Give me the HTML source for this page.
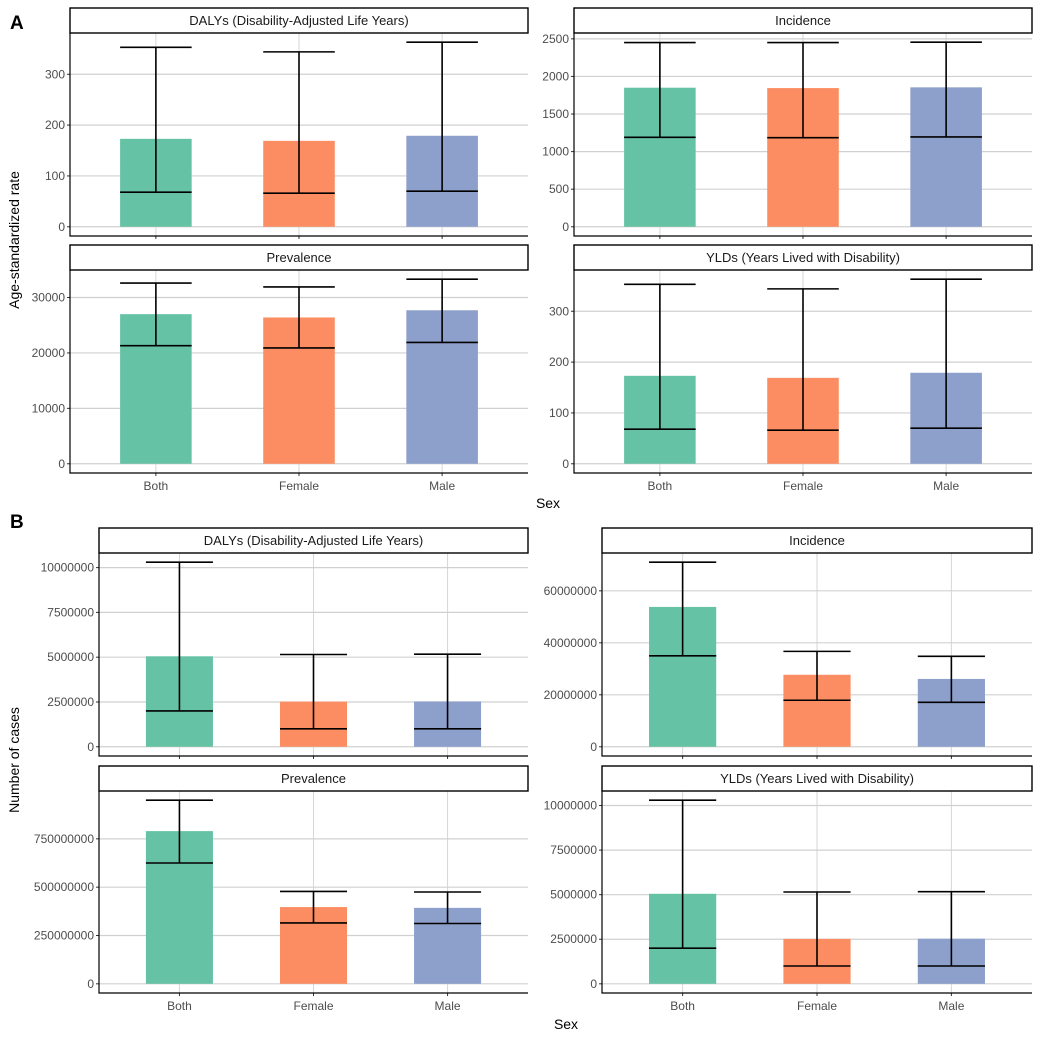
<!DOCTYPE html>
<html><head><meta charset="utf-8">
<style>
html,body{margin:0;padding:0;background:#fff;}
svg{display:block;font-family:"Liberation Sans",Arial,sans-serif;}
</style></head>
<body>
<svg id="chart" width="1040" height="1040" xmlns="http://www.w3.org/2000/svg">
<text x="10" y="29" font-size="19" font-weight="bold">A</text>
<text x="10" y="528" font-size="19" font-weight="bold">B</text>
<text transform="translate(19,240) rotate(-90)" text-anchor="middle" font-size="14">Age-standardized rate</text>
<text transform="translate(19,760) rotate(-90)" text-anchor="middle" font-size="14">Number of cases</text>
<text x="548" y="508" text-anchor="middle" font-size="14">Sex</text>
<text x="566" y="1029" text-anchor="middle" font-size="14">Sex</text>
</svg>
<script>
const categories = ["Both","Female","Male"];
const colors = ["#66c2a5","#fc8d62","#8da0cb"];
// Section A: age-standardized rates
const aDalysVal = [173,169,179];   const aDalysLo = [68,66,70];   const aDalysHi = [353,344,363];
const aIncVal = [1850,1845,1855];  const aIncLo = [1190,1185,1195]; const aIncHi = [2450,2450,2455];
const aPrevVal = [27000,26400,27700]; const aPrevLo = [21300,20900,21900]; const aPrevHi = [32600,31900,33300];
const aYldVal = [173,169,179];     const aYldLo = [68,66,70];     const aYldHi = [353,344,363];
// Section B: number of cases
const bDalysVal = [5050000,2520000,2530000]; const bDalysLo = [2000000,1000000,1000000]; const bDalysHi = [10300000,5150000,5170000];
const bIncVal = [53800000,27700000,26100000]; const bIncLo = [35000000,17900000,17100000]; const bIncHi = [71000000,36700000,34800000];
const bPrevVal = [790000000,397000000,393000000]; const bPrevLo = [625000000,315000000,312000000]; const bPrevHi = [950000000,478000000,475000000];
const bYldVal = [5050000,2520000,2530000]; const bYldLo = [2000000,1000000,1000000]; const bYldHi = [10300000,5150000,5170000];
// tick labels
const ticksA1 = [0,100,200,300];
const ticksA2 = [0,500,1000,1500,2000,2500];
const ticksA3 = [0,10000,20000,30000];
const ticksB1 = [0,2500000,5000000,7500000,10000000];
const ticksB2 = [0,20000000,40000000,60000000];
const ticksB3 = [0,250000000,500000000,750000000];

const panels = [
 {name:"a-dalys",title:"DALYs (Disability-Adjusted Life Years)",x0:70,x1:528,sy:8,py0:33,py1:236,v:aDalysVal,lo:aDalysLo,hi:aDalysHi,t:ticksA1,xl:false},
 {name:"a-incidence",title:"Incidence",x0:574,x1:1032,sy:8,py0:33,py1:236,v:aIncVal,lo:aIncLo,hi:aIncHi,t:ticksA2,xl:false},
 {name:"a-prevalence",title:"Prevalence",x0:70,x1:528,sy:245,py0:270,py1:473,v:aPrevVal,lo:aPrevLo,hi:aPrevHi,t:ticksA3,xl:true},
 {name:"a-ylds",title:"YLDs (Years Lived with Disability)",x0:574,x1:1032,sy:245,py0:270,py1:473,v:aYldVal,lo:aYldLo,hi:aYldHi,t:ticksA1,xl:true},
 {name:"b-dalys",title:"DALYs (Disability-Adjusted Life Years)",x0:99,x1:528,sy:528,py0:553,py1:756,v:bDalysVal,lo:bDalysLo,hi:bDalysHi,t:ticksB1,xl:false},
 {name:"b-incidence",title:"Incidence",x0:602,x1:1032,sy:528,py0:553,py1:756,v:bIncVal,lo:bIncLo,hi:bIncHi,t:ticksB2,xl:false},
 {name:"b-prevalence",title:"Prevalence",x0:99,x1:528,sy:766,py0:791,py1:993,v:bPrevVal,lo:bPrevLo,hi:bPrevHi,t:ticksB3,xl:true},
 {name:"b-ylds",title:"YLDs (Years Lived with Disability)",x0:602,x1:1032,sy:766,py0:791,py1:993,v:bYldVal,lo:bYldLo,hi:bYldHi,t:ticksB1,xl:true}
];
const svg = document.getElementById("chart");
const NS = "http://www.w3.org/2000/svg";
function mk(tag, attrs, parent){
  const e = document.createElementNS(NS, tag);
  for (const k in attrs) e.setAttribute(k, attrs[k]);
  (parent||svg).appendChild(e);
  return e;
}
panels.forEach(p => {
  const g = mk("g", {});
  
  
  const M = Math.max(...p.hi);
  const dlo = -0.05*M, dhi = 1.05*M;
  const y = v => p.py1 - (v - dlo)/(dhi - dlo)*(p.py1 - p.py0);
  const W = p.x1 - p.x0;
  const x = i => p.x0 + (0.6 + i)/3.2*W;
  const bw = 0.5/3.2*W;
  categories.forEach((c,i) => {
    const l = mk("line",{x1:x(i),x2:x(i),y1:p.py0,y2:p.py1,stroke:"#d6d6d6","stroke-width":1}, g);
    
    
  });
  p.t.forEach(t => {
    const l = mk("line",{x1:p.x0,x2:p.x1,y1:y(t),y2:y(t),stroke:"#d0d0d0","stroke-width":1.2}, g);
    
    
    const tk = mk("line",{x1:p.x0-3,x2:p.x0,y1:y(t),y2:y(t),stroke:"#333","stroke-width":1}, g);
    
    
    const tx = mk("text",{x:p.x0-5,y:y(t)+4,"text-anchor":"end","font-size":12,fill:"#4d4d4d"}, g);
    tx.textContent = t;
    
    
  });
  categories.forEach((c,i) => {
    const b = mk("rect",{x:x(i)-bw/2,y:y(p.v[i]),width:bw,height:y(0)-y(p.v[i]),fill:colors[i]}, g);
    
    
    const eg = mk("g",{stroke:"#000","stroke-width":1.6,fill:"none"}, g);
    
    
    mk("line",{x1:x(i),x2:x(i),y1:y(p.lo[i]),y2:y(p.hi[i])}, eg);
    mk("line",{x1:x(i)-bw/2,x2:x(i)+bw/2,y1:y(p.lo[i]),y2:y(p.lo[i])}, eg);
    mk("line",{x1:x(i)-bw/2,x2:x(i)+bw/2,y1:y(p.hi[i]),y2:y(p.hi[i])}, eg);
    const xt = mk("line",{x1:x(i),x2:x(i),y1:p.py1,y2:p.py1+3,stroke:"#333","stroke-width":1}, g);
    
    
    if (p.xl){
      const lt = mk("text",{x:x(i),y:p.py1+17,"text-anchor":"middle","font-size":12,fill:"#4d4d4d"}, g);
      lt.textContent = c;
      
      
    }
  });
  const ax = mk("path",{d:`M${p.x0},${p.py0} V${p.py1} H${p.x1}`,stroke:"#000","stroke-width":1.2,fill:"none"}, g);
  
  
  const s = mk("rect",{x:p.x0,y:p.sy,width:W,height:p.py0-p.sy,fill:"#fff",stroke:"#000","stroke-width":1.4}, g);
  
  
  const st = mk("text",{x:p.x0+W/2,y:p.sy+17,"text-anchor":"middle","font-size":13,fill:"#1a1a1a"}, g);
  st.textContent = p.title;
  
  
});
</script>
</body></html>
